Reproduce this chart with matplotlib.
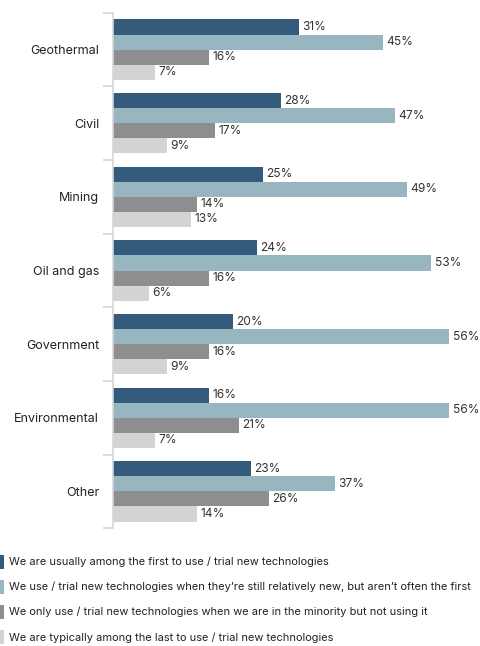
import numpy as np
import matplotlib.pyplot as plt
from matplotlib.patches import Rectangle

plt.rcParams['font.family'] = ['Inter', 'DejaVu Sans']

# sectors, top to bottom
sectors = ["Geothermal", "Civil", "Mining", "Oil and gas", "Government",
           "Environmental", "Other"]

# share of respondents (%) per adoption group
first = [31, 28, 25, 24, 20, 16, 23]
early = [45, 47, 49, 53, 56, 56, 37]
minority = [16, 17, 14, 16, 16, 21, 26]
last = [7, 9, 13, 6, 9, 7, 14]

series = [first, early, minority, last]
labels = [
    "We are usually among the first to use / trial new technologies",
    "We use / trial new technologies when they\u2019re still relatively new, but aren\u2019t often the first",
    "We only use / trial new technologies when we are in the minority but not using it",
    "We are typically among the last to use / trial new technologies",
]
colors = ["#345b7b", "#97b6bf", "#8e8e90", "#d3d3d3"]

W, H = 481, 646
fig = plt.figure(figsize=(W / 100, H / 100), dpi=100)
top, bottom = 12.7, 528.3
ax = fig.add_axes([113 / W, 1 - bottom / H, 360 / W, (bottom - top) / H])

y = np.arange(len(sectors))
bh = 0.204
for k, (vals, c) in enumerate(zip(series, colors)):
    pos = y - 1.5 * bh + k * bh
    ax.barh(pos, vals, height=bh, color=c, linewidth=0)
    for p, v in zip(pos, vals):
        ax.text(v + 0.6, p, f"{v}%", va="center", ha="left",
                fontsize=8.6, color="#333333")

ax.set_xlim(0, 60)
ax.set_ylim(len(sectors) - 0.5, -0.5)
for s in ["top", "right", "bottom"]:
    ax.spines[s].set_visible(False)
ax.spines["left"].set_color("#d6d6d6")
ax.spines["left"].set_linewidth(1.2)
ax.set_xticks([])
ax.set_yticks(np.arange(-0.5, len(sectors)), minor=True)
ax.tick_params(axis="y", which="minor", length=7, color="#d6d6d6", width=1.2)
ax.set_yticks(y)
ax.set_yticklabels(sectors, fontsize=9, color="#222222")
ax.tick_params(axis="y", which="major", length=0, pad=10)

# legend rows at the bottom
rows = [561.5, 586.7, 611.7, 637.3]
for lab, c, ry in zip(labels, colors, rows):
    fig.patches.append(Rectangle((0, 1 - (ry + 7) / H), 3.5 / W, 14 / H,
                                 transform=fig.transFigure, color=c, linewidth=0))
    fig.text(9 / W, 1 - ry / H, lab, va="center", ha="left",
             fontsize=7.95, color="#222222")

fig.savefig("out.png", dpi=100)
